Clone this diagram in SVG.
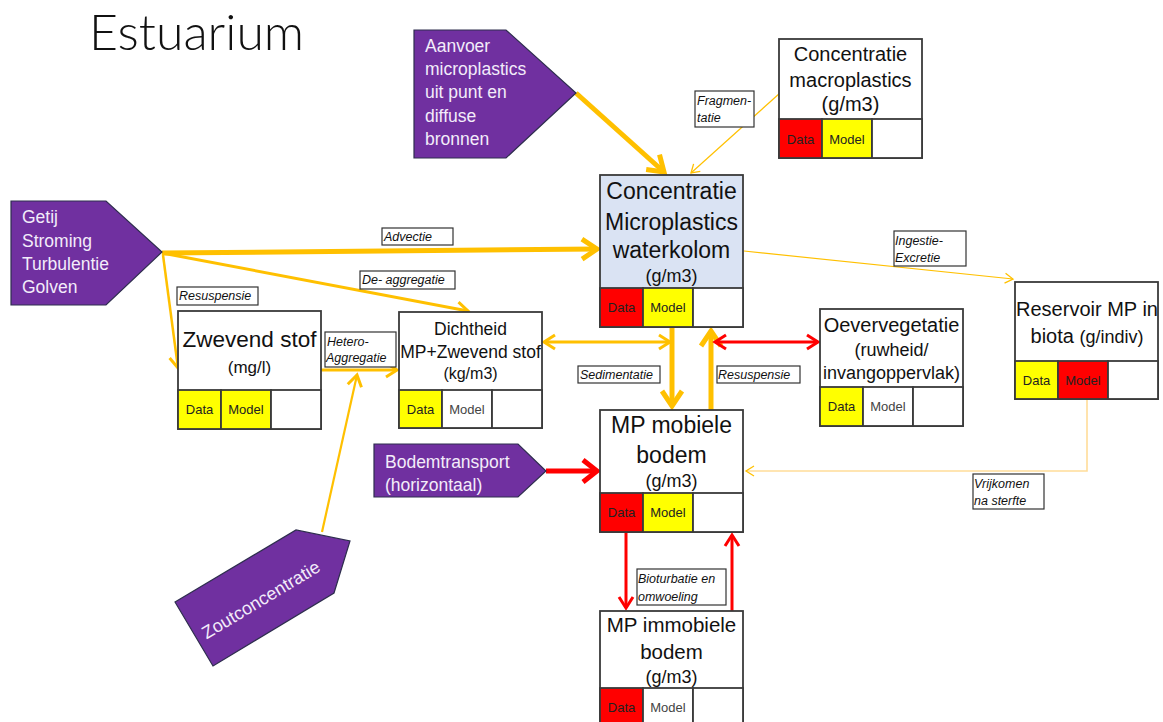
<svg xmlns="http://www.w3.org/2000/svg" width="1163" height="722" viewBox="0 0 1163 722">
  <style>
    text { font-family: "Liberation Sans", Arial, sans-serif; fill: #111; }
    .title { font-family: Lato, "Open Sans", "Liberation Sans", sans-serif; font-weight: 300; font-size: 50px; fill: #111; }
    .box { fill: #fff; stroke: #3a3a3a; stroke-width: 1.8; }
    .cell { stroke: #3a3a3a; stroke-width: 1.8; }
    .red { fill: #ff0000; }
    .yel { fill: #ffff00; }
    .wht { fill: #ffffff; }
    .c { text-anchor: middle; }
    .cl { font-size: 13px; text-anchor: middle; fill: #222; }
    .cl-g { font-size: 13px; text-anchor: middle; fill: #444; }
    .src { fill: #7030a0; stroke: #2e2e4e; stroke-width: 1.2; }
    .st { fill: #f3ecfa; font-size: 17.5px; }
    .lbl { fill: #fff; stroke: #333; stroke-width: 1.2; }
    .lt { font-size: 12.5px; font-style: italic; fill: #111; }
    .o { fill: none; stroke: #ffc000; }
    .r { fill: none; stroke: #ff0000; }
  </style>
  <defs>
    <marker id="oL" viewBox="0 0 28 28" refX="22" refY="14" markerWidth="28" markerHeight="28" markerUnits="userSpaceOnUse" orient="auto-start-reverse" overflow="visible">
      <path d="M7,4 L22,14 L7,24" fill="none" stroke="#ffc000" stroke-width="5"/>
    </marker>
    <marker id="oM" viewBox="0 0 20 20" refX="16" refY="10" markerWidth="20" markerHeight="20" markerUnits="userSpaceOnUse" orient="auto-start-reverse" overflow="visible">
      <path d="M5,3 L16,10 L5,17" fill="none" stroke="#ffc000" stroke-width="3"/>
    </marker>
    <marker id="oS" viewBox="0 0 14 14" refX="12" refY="7" markerWidth="14" markerHeight="14" markerUnits="userSpaceOnUse" orient="auto" overflow="visible">
      <path d="M4,2 L12,7 L4,12" fill="none" stroke="#ffc000" stroke-width="1.3"/>
    </marker>
    <marker id="pS" viewBox="0 0 14 14" refX="12" refY="7" markerWidth="14" markerHeight="14" markerUnits="userSpaceOnUse" orient="auto" overflow="visible">
      <path d="M4,2 L12,7 L4,12" fill="none" stroke="#ffc000" stroke-width="1.3"/>
    </marker>
    <marker id="rL" viewBox="0 0 28 28" refX="22" refY="14" markerWidth="28" markerHeight="28" markerUnits="userSpaceOnUse" orient="auto" overflow="visible">
      <path d="M8,3 L22,14 L8,25" fill="none" stroke="#ff0000" stroke-width="5"/>
    </marker>
    <marker id="rM" viewBox="0 0 20 20" refX="16" refY="10" markerWidth="20" markerHeight="20" markerUnits="userSpaceOnUse" orient="auto-start-reverse" overflow="visible">
      <path d="M5,3 L16,10 L5,17" fill="none" stroke="#ff0000" stroke-width="3"/>
    </marker>
  </defs>

  <!-- title -->
  <text class="title" x="89" y="50">Estuarium</text>

  <!-- connectors -->
  <g id="connectors">
    <!-- input from point and diffuse sources -->
    <line class="o" x1="576" y1="93" x2="664" y2="172" stroke-width="5" marker-end="url(#oL)"/>
    <!-- fragmentation -->
    <line class="o" x1="780" y1="93" x2="691" y2="173" stroke-width="1.2" marker-end="url(#oS)"/>
    <!-- advection -->
    <line class="o" x1="162" y1="253" x2="597" y2="249" stroke-width="5" marker-end="url(#oL)"/>
    <!-- de-aggregation -->
    <line class="o" x1="162" y1="253" x2="468" y2="311" stroke-width="3" marker-end="url(#oM)"/>
    <!-- resuspension towards suspended matter -->
    <line class="o" x1="163" y1="255" x2="178" y2="368" stroke-width="2.5" marker-end="url(#oM)"/>
    <!-- hetero-aggregation -->
    <line class="o" x1="321" y1="370" x2="397" y2="370" stroke-width="3" marker-end="url(#oM)"/>
    <!-- salt concentration -->
    <line class="o" x1="322" y1="532" x2="357" y2="375" stroke-width="2.2" marker-end="url(#oM)"/>
    <!-- density <-> water column -->
    <line class="o" x1="544" y1="342" x2="670" y2="342" stroke-width="3" marker-start="url(#oM)" marker-end="url(#oM)"/>
    <!-- sedimentation -->
    <line class="o" x1="672" y1="328" x2="672" y2="406" stroke-width="5" marker-end="url(#oL)"/>
    <!-- resuspension towards water column -->
    <line class="o" x1="711" y1="410" x2="711" y2="331" stroke-width="5" marker-end="url(#oL)"/>
    <!-- riparian vegetation -->
    <line class="r" x1="715" y1="342" x2="818" y2="342" stroke-width="3" marker-start="url(#rM)" marker-end="url(#rM)"/>
    <!-- ingestion / excretion -->
    <line class="o" x1="744" y1="251" x2="1013" y2="279" stroke-width="1.2" marker-end="url(#oS)"/>
    <!-- release after death -->
    <polyline fill="none" stroke="#ffdd99" stroke-width="1.6" points="1087,399 1087,471 746,471" marker-end="url(#pS)"/>
    <!-- bed transport -->
    <line class="r" x1="546" y1="471" x2="597" y2="471" stroke-width="5" marker-end="url(#rL)"/>
    <!-- bioturbation -->
    <line class="r" x1="626" y1="533" x2="626" y2="608" stroke-width="3" marker-end="url(#rM)"/>
    <line class="r" x1="732" y1="611" x2="732" y2="535" stroke-width="3" marker-end="url(#rM)"/>
  </g>

  <!-- connector labels -->
  <g id="labels">
    <rect class="lbl" x="382" y="228" width="71" height="17"/>
    <text class="lt" x="384" y="241">Advectie</text>
    <rect class="lbl" x="360" y="271" width="95" height="18"/>
    <text class="lt" x="362" y="284">De- aggregatie</text>
    <rect class="lbl" x="177" y="287" width="81" height="18"/>
    <text class="lt" x="179" y="300">Resuspensie</text>
    <rect class="lbl" x="325" y="332" width="71" height="35"/>
    <text class="lt" x="327" y="346">Hetero-</text>
    <text class="lt" x="326" y="362">Aggregatie</text>
    <rect class="lbl" x="695" y="91" width="59" height="36"/>
    <text class="lt" x="697" y="105">Fragmen-</text>
    <text class="lt" x="697" y="122">tatie</text>
    <rect class="lbl" x="894" y="231" width="72" height="35"/>
    <text class="lt" x="895" y="245">Ingestie-</text>
    <text class="lt" x="895" y="262">Excretie</text>
    <rect class="lbl" x="578" y="366" width="82" height="17"/>
    <text class="lt" x="580" y="379">Sedimentatie</text>
    <rect class="lbl" x="717" y="366" width="83" height="17"/>
    <text class="lt" x="718" y="379">Resuspensie</text>
    <rect class="lbl" x="973" y="474" width="71" height="35"/>
    <text class="lt" x="974" y="488">Vrijkomen</text>
    <text class="lt" x="974" y="505">na sterfte</text>
    <rect class="lbl" x="637" y="569" width="89" height="36"/>
    <text class="lt" x="638" y="583">Bioturbatie en</text>
    <text class="lt" x="638" y="601">omwoeling</text>
  </g>

  <!-- sources -->
  <g id="src-getij">
    <polygon class="src" points="11,201 106,201 162,252 106,305 11,305"/>
    <text class="st" x="22" y="223">Getij</text>
    <text class="st" x="22" y="247">Stroming</text>
    <text class="st" x="22" y="270">Turbulentie</text>
    <text class="st" x="22" y="293">Golven</text>
  </g>
  <g id="src-aanvoer">
    <polygon class="src" points="414,30 506,30 576,93 506,158 414,158"/>
    <text class="st" x="425" y="52">Aanvoer</text>
    <text class="st" x="425" y="75">microplastics</text>
    <text class="st" x="425" y="98">uit punt en</text>
    <text class="st" x="425" y="122">diffuse</text>
    <text class="st" x="425" y="145">bronnen</text>
  </g>
  <g id="src-bodemtransport">
    <polygon class="src" points="374,444 518,444 546,471 518,497 374,497"/>
    <text class="st" x="385" y="468">Bodemtransport</text>
    <text class="st" x="385" y="491">(horizontaal)</text>
  </g>
  <g id="src-zout">
    <polygon class="src" points="175,602 296,530 350,541 334,593 213,666"/>
    <text class="st c" x="0" y="0" transform="translate(264,605) rotate(-31)" style="font-size:18px">Zoutconcentratie</text>
  </g>

  <!-- state variables -->
  <g id="node-waterkolom">
    <rect x="600" y="175" width="143" height="152" fill="#dae3f3" stroke="#3a3a3a" stroke-width="1.8"/>
    <rect class="cell red" x="600" y="288" width="43" height="39"/>
    <rect class="cell yel" x="643" y="288" width="50" height="39"/>
    <rect class="cell wht" x="693" y="288" width="50" height="39"/>
    <text class="c" x="671.5" y="199" font-size="23">Concentratie</text>
    <text class="c" x="671.5" y="230" font-size="23">Microplastics</text>
    <text class="c" x="671.5" y="258" font-size="23">waterkolom</text>
    <text class="c" x="671.5" y="282" font-size="18">(g/m3)</text>
    <text class="cl" x="621.5" y="312">Data</text>
    <text class="cl" x="668" y="312">Model</text>
  </g>

  <g id="node-macroplastics">
    <rect class="box" x="779" y="39" width="143" height="119"/>
    <rect class="cell red" x="779" y="119" width="43" height="39"/>
    <rect class="cell yel" x="822" y="119" width="50" height="39"/>
    <rect class="cell wht" x="872" y="119" width="50" height="39"/>
    <text class="c" x="850.5" y="61" font-size="20">Concentratie</text>
    <text class="c" x="850.5" y="87" font-size="20">macroplastics</text>
    <text class="c" x="850.5" y="111" font-size="20">(g/m3)</text>
    <text class="cl" x="800.5" y="144">Data</text>
    <text class="cl" x="847" y="144">Model</text>
  </g>

  <g id="node-biota">
    <rect class="box" x="1015" y="282" width="143" height="117"/>
    <rect class="cell yel" x="1015" y="361" width="43" height="38"/>
    <rect class="cell red" x="1058" y="361" width="50" height="38"/>
    <rect class="cell wht" x="1108" y="361" width="50" height="38"/>
    <text class="c" x="1087" y="316" font-size="20">Reservoir MP in</text>
    <text class="c" x="1087" y="343" font-size="20">biota <tspan font-size="18">(g/indiv)</tspan></text>
    <text class="cl" x="1036.5" y="385">Data</text>
    <text class="cl" x="1083" y="385">Model</text>
  </g>

  <g id="node-oevervegetatie">
    <rect class="box" x="820" y="309" width="143" height="117"/>
    <rect class="cell yel" x="820" y="387" width="43" height="39"/>
    <rect class="cell wht" x="863" y="387" width="50" height="39"/>
    <rect class="cell wht" x="913" y="387" width="50" height="39"/>
    <text class="c" x="891.5" y="332" font-size="20">Oevervegetatie</text>
    <text class="c" x="891.5" y="356" font-size="18">(ruwheid/</text>
    <text class="c" x="891.5" y="379" font-size="18">invangoppervlak)</text>
    <text class="cl" x="841.5" y="411">Data</text>
    <text class="cl-g" x="888" y="411">Model</text>
  </g>

  <g id="node-dichtheid">
    <rect class="box" x="399" y="312" width="143" height="116"/>
    <rect class="cell yel" x="399" y="390" width="43" height="38"/>
    <rect class="cell wht" x="442" y="390" width="50" height="38"/>
    <rect class="cell wht" x="492" y="390" width="50" height="38"/>
    <text class="c" x="470.5" y="335" font-size="17.5">Dichtheid</text>
    <text class="c" x="470.5" y="358" font-size="17.5">MP+Zwevend stof</text>
    <text class="c" x="470.5" y="379" font-size="16">(kg/m3)</text>
    <text class="cl" x="420.5" y="414">Data</text>
    <text class="cl-g" x="467" y="414">Model</text>
  </g>

  <g id="node-zwevend-stof">
    <rect class="box" x="178" y="311" width="143" height="118"/>
    <rect class="cell yel" x="178" y="390" width="43" height="39"/>
    <rect class="cell yel" x="221" y="390" width="50" height="39"/>
    <rect class="cell wht" x="271" y="390" width="50" height="39"/>
    <text class="c" x="249.5" y="347" font-size="22.5">Zwevend stof</text>
    <text class="c" x="249.5" y="373" font-size="17">(mg/l)</text>
    <text class="cl" x="199.5" y="414">Data</text>
    <text class="cl" x="246" y="414">Model</text>
  </g>

  <g id="node-mobiele-bodem">
    <rect class="box" x="600" y="410" width="143" height="122"/>
    <rect class="cell red" x="600" y="493" width="43" height="39"/>
    <rect class="cell yel" x="643" y="493" width="50" height="39"/>
    <rect class="cell wht" x="693" y="493" width="50" height="39"/>
    <text class="c" x="671.5" y="433" font-size="23">MP mobiele</text>
    <text class="c" x="671.5" y="463" font-size="23">bodem</text>
    <text class="c" x="671.5" y="487" font-size="18">(g/m3)</text>
    <text class="cl" x="621.5" y="517">Data</text>
    <text class="cl" x="668" y="517">Model</text>
  </g>

  <g id="node-immobiele-bodem">
    <rect class="box" x="600" y="611" width="143" height="120"/>
    <rect class="cell red" x="600" y="688" width="43" height="43"/>
    <rect class="cell wht" x="643" y="688" width="50" height="43"/>
    <rect class="cell wht" x="693" y="688" width="50" height="43"/>
    <text class="c" x="671.5" y="632" font-size="20.5">MP immobiele</text>
    <text class="c" x="671.5" y="659" font-size="20.5">bodem</text>
    <text class="c" x="671.5" y="683" font-size="18">(g/m3)</text>
    <text class="cl" x="621.5" y="712">Data</text>
    <text class="cl-g" x="668" y="712">Model</text>
  </g>
</svg>
